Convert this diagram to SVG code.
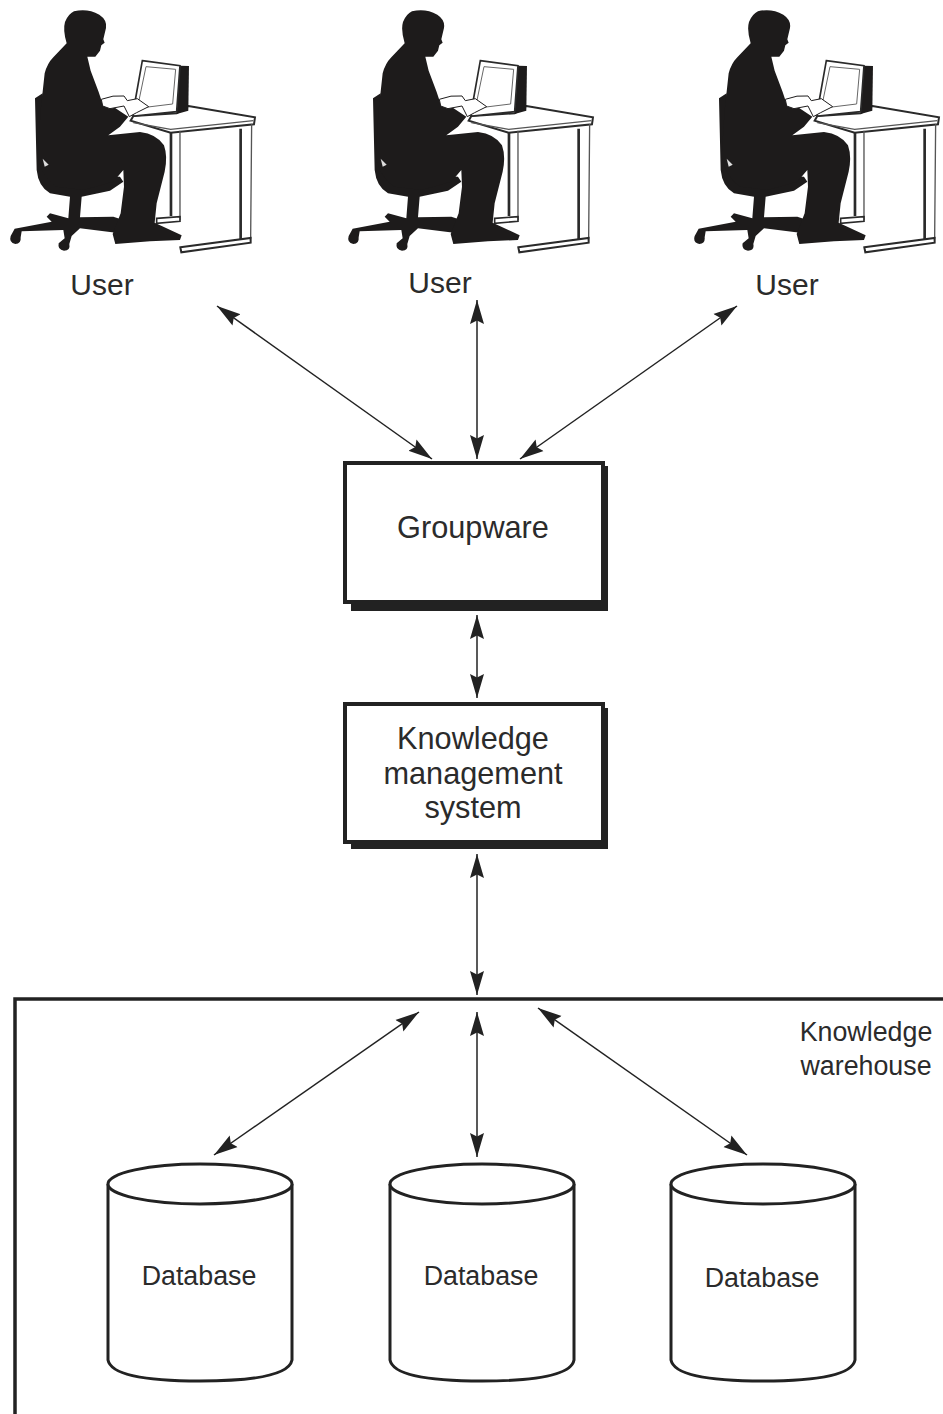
<svg xmlns="http://www.w3.org/2000/svg" width="943" height="1414" viewBox="0 0 943 1414">
  <style>
    text { font-family: "Liberation Sans", Arial, sans-serif; fill: #2b2b2b; text-anchor: middle; }
    .user { font-size: 30px; }
    .big { font-size: 30.7px; }
    .small { font-size: 26.8px; }
    .box { fill: #fff; stroke: #222; stroke-width: 4; }
    .shadow { fill: #222; }
    .link { fill: none; stroke: #222; stroke-width: 1.5; marker-start: url(#head); marker-end: url(#head); }
    .cyl { fill: #fff; stroke: #222; stroke-width: 3; }
    .ink { fill: #1d1b1b; }
    .rail { fill: none; stroke: #2a2a2a; stroke-width: 8; }
    .railthin { fill: none; stroke: #555; stroke-width: 4; }
  </style>
  <defs>
    <marker id="head" viewBox="0 0 24 16" refX="24" refY="8" markerWidth="24" markerHeight="16" markerUnits="userSpaceOnUse" orient="auto-start-reverse">
      <path d="M24 8 L0 1 L3.5 8 L0 15 Z" fill="#222"/>
    </marker>
    <!-- Seated operator at a desk, drawn at triple scale -->
    <g id="operator" transform="scale(0.3333)">
      <!-- desk -->
      <path d="M565 318 L765 352 L762 373 L512 398 L392 362 L400 348 L530 340 Z" fill="#fff" stroke="#2a2a2a" stroke-width="6"/>
      <path class="railthin" d="M400 368 L512 388 L760 362"/>
      <path class="rail" d="M513 398 L513 648 M722 386 L722 722"/>
      <path class="railthin" d="M540 392 L540 660 M755 372 L752 716"/>
      <path d="M470 655 L540 650 L540 664 L470 670 Z" fill="#fff" stroke="#2a2a2a" stroke-width="5"/>
      <path d="M541 742 L752 714 L752 728 L544 757 Z" fill="#fff" stroke="#2a2a2a" stroke-width="6"/>
      <!-- monitor -->
      <path d="M540 197 L567 198 L565 332 L530 342 Z" class="ink"/>
      <path d="M427 182 L540 197 L530 335 L402 348 L398 345 Z" fill="#fff" stroke="#2a2a2a" stroke-width="5"/>
      <path d="M438 200 L527 208 L518 312 L412 325 Z" fill="#fff" stroke="#666" stroke-width="3"/>
      <!-- chair -->
      <path class="ink" d="M105 295 L128 280 L140 400 L150 520 L360 530 L370 545 L330 572 L245 590 L240 652 L340 650 L370 660 L360 700 L240 685 L215 708 L208 732 Q212 752 192 752 Q172 750 176 730 L194 715 L190 690 L65 694 L62 712 Q64 732 46 732 Q26 728 32 708 L44 686 L155 665 L140 650 L150 640 L205 655 L210 590 L150 580 Q115 560 110 510 Z"/>
      <!-- person -->
      <path class="ink" d="M222 34 Q262 24 298 44 Q322 60 318 84 L310 118 L314 128 L304 136 L300 152 L286 170 L262 170 L272 212 L296 276 L304 300 L340 320 L385 350 L360 380 L325 406 L420 396 Q470 402 492 436 Q504 470 494 515 L470 610 L464 668 L490 680 L545 706 L540 720 L450 724 L346 732 L338 702 L362 640 L372 560 L370 510 L340 545 L250 570 L170 560 Q125 530 113 470 L122 330 L134 220 Q142 190 160 172 L200 130 Q188 90 195 66 Q205 42 222 34 Z"/>
      <path d="M128 476 L146 494 L134 500 Z" fill="#ddd"/>
      <!-- hands on the keyboard -->
      <path d="M304 298 Q340 284 372 288 L382 302 L412 296 L446 320 L410 338 L388 350 L372 318 L330 326 L308 318 Z" fill="#fff" stroke="#1d1b1b" stroke-width="3"/>
    </g>
  </defs>

  <g id="connectors">
    <line class="link" x1="217" y1="306" x2="432" y2="459"/>
    <line class="link" x1="477" y1="300" x2="477" y2="459"/>
    <line class="link" x1="737" y1="306" x2="520" y2="459"/>
    <line class="link" x1="477" y1="615" x2="477" y2="698"/>
    <line class="link" x1="477" y1="854" x2="477" y2="995"/>
    <line class="link" x1="419" y1="1012" x2="214" y2="1155"/>
    <line class="link" x1="477" y1="1012" x2="477" y2="1157"/>
    <line class="link" x1="538" y1="1008" x2="747" y2="1155"/>
  </g>

  <g id="user-1">
    <use href="#operator" x="0" y="0"/>
    <text class="user" x="102" y="295">User</text>
  </g>
  <g id="user-2">
    <use href="#operator" x="338" y="0"/>
    <text class="user" x="440" y="293">User</text>
  </g>
  <g id="user-3">
    <use href="#operator" x="684" y="0"/>
    <text class="user" x="787" y="295">User</text>
  </g>

  <g id="groupware">
    <rect class="shadow" x="351" y="466" width="257" height="145"/>
    <rect class="box" x="345" y="463" width="258" height="139"/>
    <text class="big" x="473" y="538">Groupware</text>
  </g>

  <g id="knowledge-management-system">
    <rect class="shadow" x="351" y="708" width="257" height="141"/>
    <rect class="box" x="345" y="704" width="258" height="138"/>
    <text class="big" x="473" y="749">Knowledge</text>
    <text class="big" x="473" y="784">management</text>
    <text class="big" x="473" y="818">system</text>
  </g>

  <g id="knowledge-warehouse">
    <path d="M943 999 L15 999 L15 1414" fill="none" stroke="#222" stroke-width="3.5"/>
    <text class="small" x="866" y="1041">Knowledge</text>
    <text class="small" x="866" y="1075">warehouse</text>
  </g>

  <g id="database-1">
    <path class="cyl" d="M108 1184 V1360 Q112 1381 200 1381 Q288 1381 292 1360 V1184"/>
    <ellipse class="cyl" cx="200" cy="1184" rx="92" ry="20"/>
    <text class="small" x="199" y="1285">Database</text>
  </g>
  <g id="database-2">
    <path class="cyl" d="M390 1184 V1360 Q394 1381 482 1381 Q570 1381 574 1360 V1184"/>
    <ellipse class="cyl" cx="482" cy="1184" rx="92" ry="20"/>
    <text class="small" x="481" y="1285">Database</text>
  </g>
  <g id="database-3">
    <path class="cyl" d="M671 1184 V1360 Q675 1381 763 1381 Q851 1381 855 1360 V1184"/>
    <ellipse class="cyl" cx="763" cy="1184" rx="92" ry="20"/>
    <text class="small" x="762" y="1287">Database</text>
  </g>
</svg>
